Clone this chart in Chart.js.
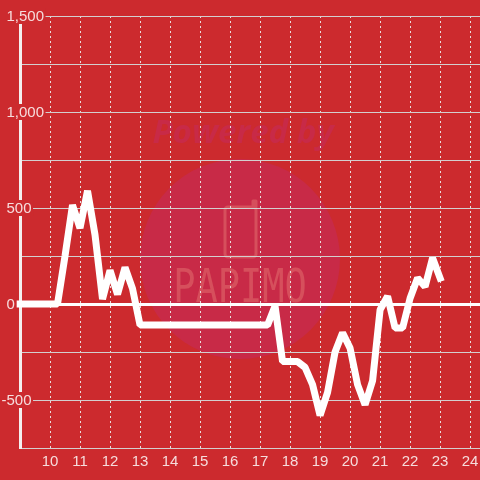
<!DOCTYPE html>
<html><head><meta charset="utf-8">
<style>html,body{margin:0;padding:0;background:#cc2a2e}canvas{display:block}</style>
<script src="https://cdn.jsdelivr.net/npm/chart.js@4"></script>
</head><body>
<canvas id="c" width="480" height="480"></canvas>
<script>
const hours = [9,10.25,10.5,10.75,11,11.25,11.5,11.75,12,12.25,12.5,12.75,13,17.25,17.5,17.75,18.25,18.5,18.75,19,19.25,19.5,19.75,20,20.25,20.5,20.75,21,21.25,21.5,21.75,22,22.25,22.5,22.75,23];
const values = [0,0,250,515,395,590,360,25,175,50,190,80,-110,-110,-10,-300,-300,-330,-420,-580,-460,-250,-150,-230,-420,-525,-400,-30,40,-125,-125,30,135,90,240,135];
const yLabels = [1500,1000,500,0,-500];
const BG = '#cc2a2e', TICK = '#f6dcdc', GRID = '#d3cfcf', FONT = '"Liberation Sans", Arial, sans-serif';

const paper = {
  id: 'paper',
  beforeDraw(chart) {
    const g = chart.ctx;
    g.save();
    g.fillStyle = BG; g.fillRect(0, 0, 480, 480);
    g.fillStyle = '#c82a47';
    g.beginPath(); g.arc(240, 259, 100, 0, Math.PI * 2); g.fill();
    g.fillStyle = '#c82a47';
    g.font = 'italic bold 33px "Open Sans", ' + FONT;
    g.textAlign = 'center'; g.textBaseline = 'middle';
    g.fillText('Powered by', 243, 134);
    g.strokeStyle = '#d64f5c'; g.lineWidth = 3; g.lineJoin = 'round'; g.lineCap = 'round';
    g.beginPath();
    g.roundRect(225, 207, 31, 50, 3);
    g.moveTo(253, 207); g.lineTo(253, 201); g.lineTo(256, 201); g.lineTo(256, 207);
    g.stroke();
    g.fillStyle = '#d64f5c';
    g.font = '37px "DejaVu Sans Mono", monospace';
    g.translate(240, 290); g.scale(1, 1.25);
    g.fillText('PAPIMO', 0, 0);
    g.restore();
  },
  afterDraw(chart) {
    const g = chart.ctx, s = chart.scales.y;
    g.save();
    g.font = '15px ' + FONT;
    g.textAlign = 'left'; g.textBaseline = 'middle';
    s.ticks.forEach((t, i) => {
      if (!t.label) return;
      const y = s.getPixelForTick(i), w = g.measureText(t.label).width;
      const lead = t.value < 0 ? g.measureText('-').width : 0;
      const x = 6.5 - lead;
      g.fillStyle = BG;
      g.fillRect(x - 1, y - 8, w + 2.5, 16);
      g.fillStyle = TICK;
      g.fillText(t.label, x, y + 1);
    });
    g.restore();
  }
};

new Chart(document.getElementById('c'), {
  type: 'line',
  data: { datasets: [{
    data: hours.map((h, i) => ({ x: h, y: values[i] })),
    borderColor: '#ffffff', borderWidth: 7, pointRadius: 0, tension: 0,
    borderJoinStyle: 'bevel', borderCapStyle: 'square', clip: false
  }]},
  plugins: [paper],
  options: {
    responsive: false, animation: false, events: [],
    layout: { padding: { top: 16, right: 0, left: 0, bottom: 0 } },
    plugins: { legend: { display: false }, tooltip: { enabled: false } },
    scales: {
      x: {
        type: 'linear', min: 9, max: 24.33,
        afterFit(s) { s.height = 32; s.paddingLeft = 0; s.paddingRight = 0; },
        ticks: { stepSize: 1, autoSkip: false, maxRotation: 0, color: TICK, padding: 5,
          font: { family: FONT, size: 15 }, includeBounds: false,
          callback: v => v === 9 ? '' : String(v) },
        grid: { color: '#e8dede', lineWidth: 1, drawTicks: false },
        border: { display: false, dash: [2, 3] }
      },
      y: {
        min: -750, max: 1500,
        afterFit(s) { s.width = 20; s.paddingTop = 0; s.paddingBottom = 0; },
        ticks: { stepSize: 250, display: false,
          callback: v => yLabels.includes(v) ? v.toLocaleString('en-US') : '' },
        grid: { drawTicks: false,
          color: c => c.tick.value === 0 ? '#ffffff' : GRID,
          lineWidth: c => c.tick.value === 0 ? 3 : 1 },
        border: { display: true, color: '#f4efef', width: 3 }
      }
    }
  }
});
</script>
</body></html>
